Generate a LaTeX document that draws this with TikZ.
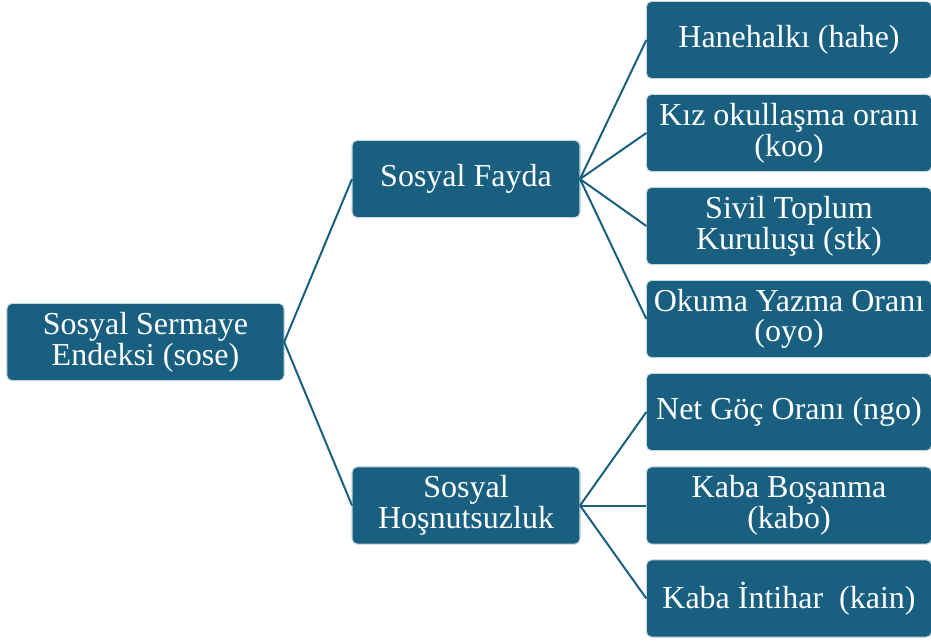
\documentclass[tikz,border=0pt]{standalone}
\usepackage{fontspec}
\setmainfont{Liberation Serif}
\definecolor{kutu}{RGB}{24,95,128}
\tikzset{
  kutu/.style={fill=kutu, draw=white!75!kutu, line width=0.8pt, rounded corners=4pt,
    text=white, align=center, inner sep=0pt, outer sep=0pt, minimum height=58pt,
    font=\fontsize{24}{23}\selectfont},
  kok/.style={kutu, minimum width=208pt},
  orta/.style={kutu, minimum width=171pt},
  yaprak/.style={kutu, minimum width=214pt},
  bag/.style={draw=kutu, line width=1.5pt}
}
\begin{document}
\begin{tikzpicture}[x=0.75pt,y=-0.75pt]
    \useasboundingbox (0,0) rectangle (931,642);

    \node[kok] (sose) at (145.5,342) {Sosyal Sermaye\\Endeksi (sose)};

    \node[orta] (fayda) at (466,179) {Sosyal Fayda};
    \node[orta] (hosnut) at (466,505.5) {Sosyal\\Hoşnutsuzluk};

    \node[yaprak] (hahe) at (789,40) {Hanehalkı (hahe)};
    \node[yaprak] (koo) at (789,133) {Kız okullaşma oranı\\(koo)};
    \node[yaprak] (stk) at (789,226) {Sivil Toplum\\Kuruluşu (stk)};
    \node[yaprak] (oyo) at (789,319) {Okuma Yazma Oranı\\(oyo)};
    \node[yaprak] (ngo) at (789,412) {Net Göç Oranı (ngo)};
    \node[yaprak] (kabo) at (789,505.5) {Kaba Boşanma\\(kabo)};
    \node[yaprak] (kain) at (789,598.5) {Kaba İntihar\ \ (kain)};

    \draw[bag] (sose.east)--(fayda.west);
    \draw[bag] (sose.east)--(hosnut.west);

    \draw[bag] (fayda.east)--(hahe.west);
    \draw[bag] (fayda.east)--(koo.west);
    \draw[bag] (fayda.east)--(stk.west);
    \draw[bag] (fayda.east)--(oyo.west);

    \draw[bag] (hosnut.east)--(ngo.west);
    \draw[bag] (hosnut.east)--(kabo.west);
    \draw[bag] (hosnut.east)--(kain.west);
  \end{tikzpicture}
\end{document}
